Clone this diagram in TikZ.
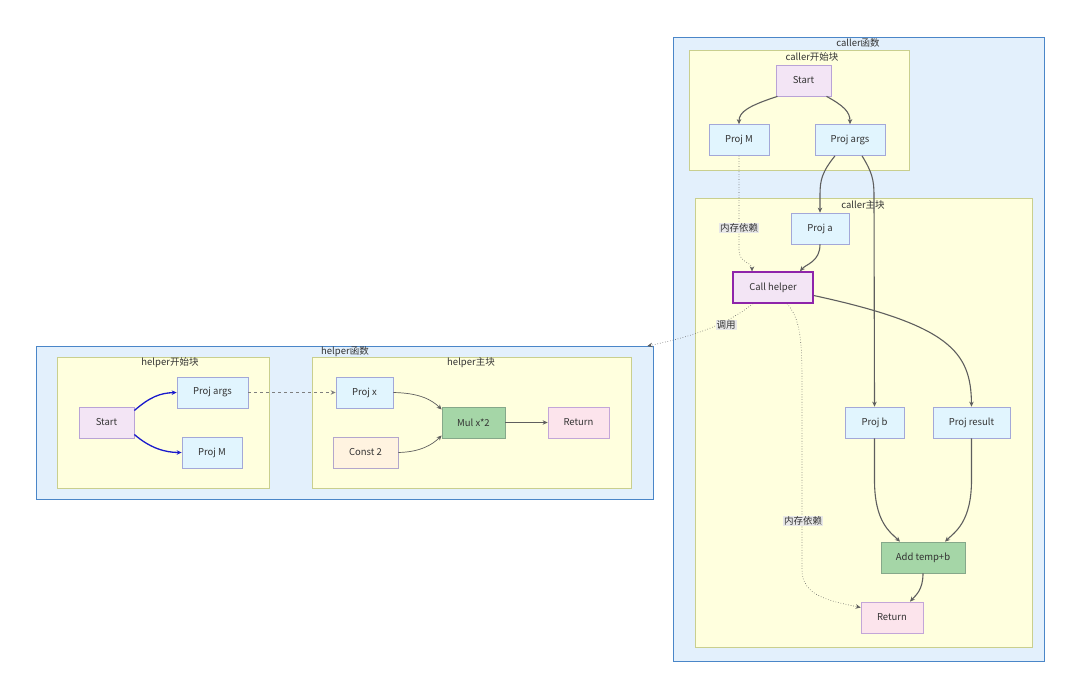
\documentclass[tikz,border=0pt]{standalone}
\usepackage{fontspec}
\setmainfont{Noto Sans CJK SC}
\usetikzlibrary{arrows.meta}
\definecolor{fnfill}{HTML}{E3F0FC}
\definecolor{fndraw}{HTML}{4A86C8}
\definecolor{blkfill}{HTML}{FFFFDE}
\definecolor{blkdraw}{HTML}{C9CF8E}
\definecolor{startfill}{HTML}{F3E5F5}
\definecolor{startdraw}{HTML}{B9A3D6}
\definecolor{projfill}{HTML}{E1F5FE}
\definecolor{projdraw}{HTML}{A3A8D8}
\definecolor{callfill}{HTML}{F3E5F5}
\definecolor{calldraw}{HTML}{8E24AA}
\definecolor{opfill}{HTML}{A5D6A7}
\definecolor{opdraw}{HTML}{86A88A}
\definecolor{retfill}{HTML}{FCE4EC}
\definecolor{retdraw}{HTML}{C3A6D8}
\definecolor{constfill}{HTML}{FFF3E0}
\definecolor{constdraw}{HTML}{B3A6CC}
\definecolor{edgec}{HTML}{5E5E5E}
\definecolor{textc}{HTML}{333333}
\definecolor{lblfill}{HTML}{E8E8E8}
\definecolor{blueedge}{HTML}{1A1ACC}
\tikzset{
  x=1pt, y=-1pt,
  every node/.style={font=\fontsize{9.5}{11}\selectfont, text=textc},
  fnbox/.style={draw=fndraw, fill=fnfill, line width=1.4pt, inner sep=0, anchor=north west},
  blkbox/.style={draw=blkdraw, fill=blkfill, line width=0.8pt, inner sep=0, anchor=north west},
  ttl/.style={inner sep=1pt},
  base/.style={line width=0.7pt, inner sep=0, minimum height=31pt},
  startn/.style={base, draw=startdraw, fill=startfill},
  projn/.style={base, draw=projdraw, fill=projfill},
  calln/.style={base, draw=calldraw, fill=callfill, line width=1.3pt},
  opn/.style={base, draw=opdraw, fill=opfill},
  retn/.style={base, draw=retdraw, fill=retfill},
  constn/.style={base, draw=constdraw, fill=constfill},
  edge/.style={draw=edgec, line width=1.1pt, -{Stealth[length=5pt,width=4.5pt]}},
  dotedge/.style={draw=edgec, line width=0.6pt, dotted, -{Stealth[length=5pt,width=4.5pt]}},
  dashedge/.style={draw=edgec!80, line width=0.7pt, dashed, -{Stealth[length=5pt,width=4.5pt]}},
  blueedgest/.style={draw=blueedge, line width=1.3pt, -{Stealth[length=5pt,width=4.5pt]}},
  lbl/.style={fill=lblfill, inner sep=1pt, text=textc},
}
\begin{document}
\begin{tikzpicture}
\useasboundingbox (0,0) rectangle (1080,698);
\fill[white] (0,0) rectangle (1080,698);

% ---------- caller function ----------
\node[fnbox, minimum width=371pt, minimum height=624pt] (callerF) at (673,37) {};
\node[ttl] (callerFT) at (858,43) {caller函数};
\node[blkbox, minimum width=220pt, minimum height=120pt] (callerS) at (689,50) {};
\node[ttl] (callerST) at (812,57) {caller开始块};
\node[blkbox, minimum width=337pt, minimum height=449pt] (callerM) at (695,198) {};
\node[ttl] (callerMT) at (863,205) {caller主块};

\node[startn, minimum width=55pt] (cStart) at (803.5,80.5) {Start};
\node[projn, minimum width=60pt] (cProjM) at (739,140) {Proj M};
\node[projn, minimum width=70pt] (cProjArgs) at (850,140) {Proj args};
\node[projn, minimum width=58pt] (cProjA) at (820,228.5) {Proj a};
\node[calln, minimum width=80pt] (cCall) at (773,287.5) {Call helper};
\node[projn, minimum width=59pt] (cProjB) at (874.5,422.5) {Proj b};
\node[projn, minimum width=77pt] (cProjRes) at (971.5,422.5) {Proj result};
\node[opn, minimum width=84pt] (cAdd) at (923,557.5) {Add temp+b};
\node[retn, minimum width=62pt] (cRet) at (892,617.5) {Return};

% ---------- helper function ----------
\node[fnbox, minimum width=617pt, minimum height=153pt] (helperF) at (36,346) {};
\node[ttl] (helperFT) at (345,352) {helper函数};
\node[blkbox, minimum width=212pt, minimum height=131pt] (helperS) at (57,357) {};
\node[ttl] (helperST) at (170,363) {helper开始块};
\node[blkbox, minimum width=319pt, minimum height=131pt] (helperM) at (312,357) {};
\node[ttl] (helperMT) at (471,363) {helper主块};

\node[startn, minimum width=55pt] (hStart) at (106.5,422.5) {Start};
\node[projn, minimum width=71pt] (hProjArgs) at (212.5,392.5) {Proj args};
\node[projn, minimum width=60pt] (hProjM) at (212,452.5) {Proj M};
\node[projn, minimum width=57pt] (hProjX) at (364.5,392.5) {Proj x};
\node[constn, minimum width=65pt] (hConst) at (365.5,452.5) {Const 2};
\node[opn, minimum width=63pt] (hMul) at (473.5,422.5) {Mul x*2};
\node[retn, minimum width=61pt] (hRet) at (578.5,422.5) {Return};

% ---------- caller edges ----------
\draw[edge] ([xshift=-26pt]cStart.south) .. controls (748,106) and (739,112) .. (cProjM.north);
\draw[edge] ([xshift=23pt]cStart.south) .. controls (844,106) and (850,112) .. (cProjArgs.north);
\draw[dotedge] (cProjM.south) -- (739,250) .. controls (739,263) and (752,262) .. ([xshift=-21pt]cCall.north);
\node[lbl] (lblMem1) at (739,228) {内存依赖};
\draw[edge] ([xshift=-15pt]cProjArgs.south) .. controls (822,172) and (820,180) .. (820,195) -- (cProjA.north);
\draw[edge] ([xshift=12pt]cProjArgs.south) .. controls (872,172) and (874,180) .. (874,195) -- (cProjB.north);
\draw[edge] (cProjA.south) .. controls (820,262) and (806,264) .. ([xshift=27pt]cCall.north);
\draw[edge] ([yshift=-8pt]cCall.east) .. controls (950,325) and (971,352) .. (cProjRes.north);
\draw[dotedge] ([xshift=14pt]cCall.south) .. controls (800,318) and (802,340) .. (802,380) -- (802,570) .. controls (802,596) and (830,601) .. ([yshift=10pt]cRet.west);
\node[lbl] (lblMem2) at (803,521) {内存依赖};
\draw[dotedge] ([xshift=-20pt]cCall.south) .. controls (730,322) and (700,335) .. ([xshift=-7pt]helperF.north east);
\node[lbl] (lblCall) at (726,325) {调用};
\draw[edge] (cProjB.south) -- (874.5,480) .. controls (874.5,522) and (890,532) .. ([xshift=-23pt]cAdd.north);
\draw[edge] (cProjRes.south) -- (971.5,480) .. controls (971.5,522) and (955,532) .. ([xshift=22pt]cAdd.north);
\draw[edge] (cAdd.south) .. controls (923,590) and (916,595) .. ([xshift=18pt]cRet.north);

% ---------- helper edges ----------
\draw[blueedgest] ([yshift=12pt]hStart.east) .. controls (150,397) and (160,393) .. (hProjArgs.west);
\draw[blueedgest] ([yshift=-12pt]hStart.east) .. controls (150,448) and (165,452.5) .. (hProjM.west);
\draw[dashedge] (hProjArgs.east) -- (hProjX.west);
\draw[edge, line width=0.7pt] (hProjX.east) .. controls (420,393) and (432,400) .. ([yshift=13pt]hMul.west);
\draw[edge, line width=0.7pt] (hConst.east) .. controls (420,452) and (432,445) .. ([yshift=-13pt]hMul.west);
\draw[edge, line width=0.7pt] (hMul.east) -- (hRet.west);
\end{tikzpicture}
\end{document}
